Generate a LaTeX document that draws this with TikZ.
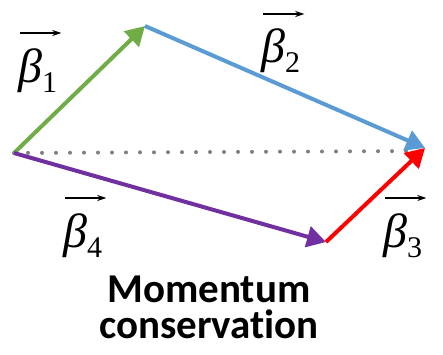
\documentclass[tikz,border=0pt]{standalone}
\usepackage{fontspec}
\setmainfont{Liberation Serif}
\newfontfamily\capfont[Ligatures=NoCommon]{Carlito}
\usetikzlibrary{arrows.meta,calc}
\definecolor{vgreen}{HTML}{70AD47}
\definecolor{vblue}{HTML}{5B9BD5}
\definecolor{vpurple}{HTML}{7030A0}
\definecolor{vred}{HTML}{FF0000}
\definecolor{vgray}{HTML}{808080}
\newcommand{\betalabel}[1]{\fontsize{48}{48}\selectfont\itshape β\raisebox{-10pt}{\fontsize{30}{30}\selectfont\upshape #1}}
\begin{document}
\begin{tikzpicture}[x=1pt,y=1pt,
  vec/.style={line width=4pt,-{Triangle[length=19pt,width=21pt]}},
  overarrow/.style={line width=1.4pt,-{Stealth[length=9pt,width=6pt]}},
  lbl/.style={anchor=base west,inner sep=0pt}]
\useasboundingbox (0,0) rectangle (443,354);
\coordinate (O) at (14,201);
\coordinate (A) at (145,328);
\coordinate (B) at (425,206);
\coordinate (C) at (326,112);
\coordinate (Dend) at (420,203);
\draw[vgray,line width=4pt,line cap=round,dash pattern=on 0pt off 14pt] (O) -- (Dend);
\draw[vec,vgreen] (O) -- (A);
\draw[vec,vblue] (A) -- (B);
\draw[vec,vpurple] (O) -- (C);
\draw[vec,vred] (C) -- (B);
\node[lbl] (b1) at (18,272) {\betalabel{1}};
\node[lbl] (b2) at (261,291) {\betalabel{2}};
\node[lbl] (b4) at (63,107) {\betalabel{4}};
\node[lbl] (b3) at (383,107) {\betalabel{3}};
\foreach \n in {b1,b2,b3,b4}{
  \draw[overarrow] ([yshift=15pt,xshift=2pt]\n.north west) -- ([yshift=15pt,xshift=4pt]\n.north east);
}
\node[font=\capfont\bfseries\fontsize{41}{36}\selectfont,align=center,anchor=base,inner sep=0pt] (cap) at (209,16) {Momentum\\conservation};
\end{tikzpicture}
\end{document}
